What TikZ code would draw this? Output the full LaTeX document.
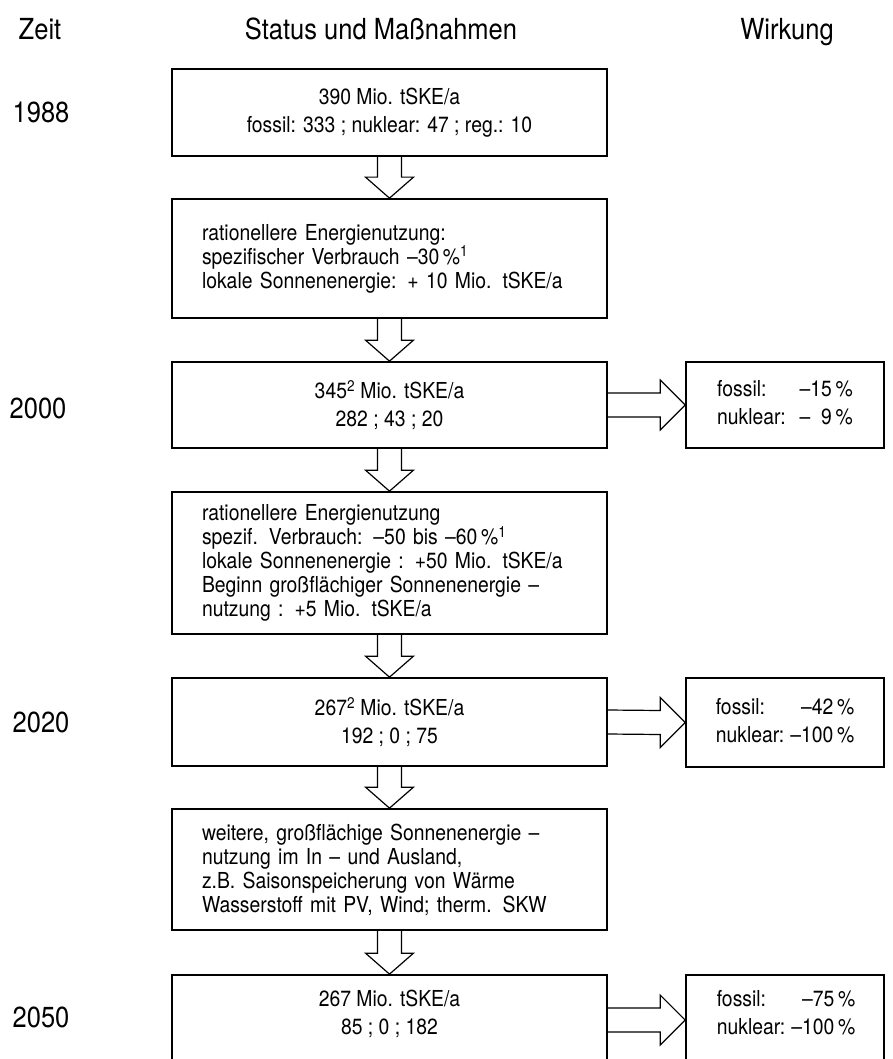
\documentclass[tikz,border=0pt]{standalone}
\usepackage{fontspec}
\setmainfont{TeX Gyre Heros}[FakeStretch=0.88]
\newcommand\flowdown[2]{\draw[arr] ([xshift=-12pt]#1.south) -- ([xshift=-12pt,yshift=21pt]#2.north) -- ([xshift=-24pt,yshift=21pt]#2.north) -- (#2.north) -- ([xshift=24pt,yshift=21pt]#2.north) -- ([xshift=12pt,yshift=21pt]#2.north) -- ([xshift=12pt]#1.south);}
\newcommand\flowright[2]{\draw[arr] ([yshift=12pt]#1.east) -- ([xshift=-25pt,yshift=12pt]#2.west) -- ([xshift=-25pt,yshift=25pt]#2.west) -- (#2.west) -- ([xshift=-25pt,yshift=-25pt]#2.west) -- ([xshift=-25pt,yshift=-12pt]#2.west) -- ([yshift=-12pt]#1.east);}
\begin{document}
\begin{tikzpicture}[x=1pt,y=-1pt,
  box/.style={draw, line width=1.7pt, minimum width=435pt, inner sep=0pt,
    font=\fontsize{22}{28}\selectfont, align=center},
  lbox/.style={box, text width=375pt, align=left, font=\fontsize{22}{24}\selectfont},
  rbox/.style={draw, line width=1.7pt, minimum width=198pt, inner sep=0pt,
    font=\fontsize{22}{28}\selectfont},
  txt/.style={inner sep=0pt, font=\fontsize{22}{28}\selectfont, align=center},
  hdr/.style={font=\fontsize{29}{32}\selectfont, anchor=base, inner sep=0pt},
  arr/.style={line width=1.2pt, line join=miter}]
\useasboundingbox (0,0) rectangle (892,1059);
\clip (0,0) rectangle (892,1059);

% headers
\node[hdr] (hz) at (40,40) {Zeit};
\node[hdr] (hs) at (381,40) {Status und Maßnahmen};
\node[hdr] (hw) at (787,40) {Wirkung};

% years
\node[hdr] (y1) at (41,123) {1988};
\node[hdr] (y2) at (38,418) {2000};
\node[hdr] (y3) at (41,732) {2020};
\node[hdr] (y4) at (41,1027) {2050};

% left column
\node[box, minimum height=87pt] (b1) at (389.5,112.5)
  {390 Mio. tSKE/a\\fossil: 333 ; nuklear: 47 ; reg.: 10};
\node[lbox, minimum height=119pt] (b2) at (389.5,258.5)
  {rationellere Energienutzung:\\spezifischer Verbrauch –30\,\%\textsuperscript{1}\\lokale Sonnenenergie: + 10 Mio. tSKE/a};
\node[box, minimum height=86pt] (b3) at (389.5,405)
  {345\textsuperscript{2} Mio. tSKE/a\\282 ; 43 ; 20};
\node[lbox, minimum height=142pt] (b4) at (389.5,563)
  {rationellere Energienutzung\\spezif. Verbrauch: –50 bis –60\,\%\textsuperscript{1}\\lokale Sonnenenergie : +50 Mio. tSKE/a\\Beginn großflächiger Sonnenenergie –\\nutzung : +5 Mio. tSKE/a};
\node[box, minimum height=88pt] (b5) at (389.5,722)
  {267\textsuperscript{2} Mio. tSKE/a\\192 ; 0 ; 75};
\node[lbox, minimum height=121pt] (b6) at (389.5,869.5)
  {weitere, großflächige Sonnenenergie –\\nutzung im In – und Ausland,\\z.B. Saisonspeicherung von Wärme\\Wasserstoff mit PV, Wind; therm. SKW};
\node[box, minimum height=90pt] (b7) at (389.5,1020) {};
\node[txt] (b7t) at (389.5,1014) {267 Mio. tSKE/a\\85 ; 0 ; 182};

% right column
\node[rbox, minimum height=86pt] (r1) at (785,405)
  {\begin{tabular}{@{}l@{\hspace{14pt}}r@{}}fossil: & –15\,\%\\nuklear: & –\phantom{1}9\,\%\end{tabular}};
\node[rbox, minimum height=89pt] (r2) at (785,722.5)
  {\begin{tabular}{@{}l@{\hspace{6pt}}r@{}}fossil: & –42\,\%\\nuklear: & –100\,\%\end{tabular}};
\node[rbox, minimum height=90pt] (r3) at (785,1020) {};
\node[txt] (r3t) at (786,1015)
  {\begin{tabular}{@{}l@{\hspace{6pt}}r@{}}fossil: & –75\,\%\\nuklear: & –100\,\%\end{tabular}};

% arrows
\flowdown{b1}{b2}
\flowdown{b2}{b3}
\flowdown{b3}{b4}
\flowdown{b4}{b5}
\flowdown{b5}{b6}
\flowdown{b6}{b7}
\flowright{b3}{r1}
\flowright{b5}{r2}
\flowright{b7}{r3}
\end{tikzpicture}
\end{document}
